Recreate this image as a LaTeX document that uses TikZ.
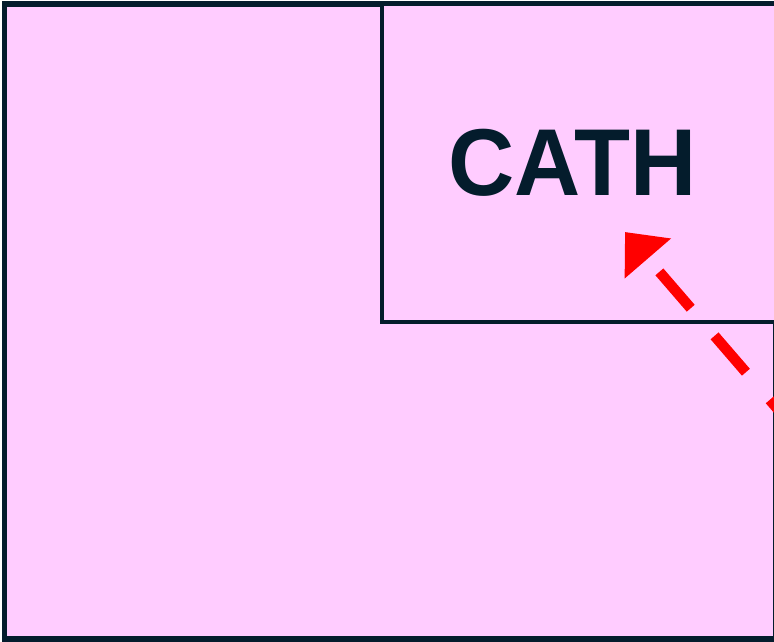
\documentclass[tikz,border=0pt]{standalone}
\usepackage{fontspec}
\setmainfont{Liberation Sans}
\usepackage{xcolor}
\definecolor{ink}{RGB}{4,28,44}
\definecolor{blush}{RGB}{255,204,255}
\definecolor{alarm}{RGB}{255,0,0}
\usepackage{tikz}
\usetikzlibrary{arrows.meta,positioning}
\tikzset{
  regionbox/.style={fill=blush, draw=ink, line width=5.5pt},
  subbox/.style={fill=blush, draw=ink, line width=4.5pt},
  pointer/.style={draw=alarm, line width=10.5pt, line cap=butt,
                  dash pattern=on 48pt off 36.5pt,
                  -{Triangle[length=35pt,width=59pt]}},
}

\begin{document}
\begin{tikzpicture}[x=1pt,y=-1pt]
  \useasboundingbox (0,0) rectangle (774,642);
  \clip (0,0) rectangle (774,642);
  %% outer region
  \draw[regionbox] (4.5,4) rectangle (776,639);
  %% inner region
  \draw[subbox] (382,4) rectangle (776,322);
  \node[font=\fontsize{95}{95}\selectfont\bfseries, text=ink, inner sep=0pt]
    (cath) at (572.5,162.5) {\scalebox{0.965}[1]{CATH}};
  %% pointer from outside
  \coordinate (src) at (801.1,436.2);
  \coordinate (tip) at (625,232);
  \draw[pointer] (src) -- (tip);
\end{tikzpicture}
\end{document}
